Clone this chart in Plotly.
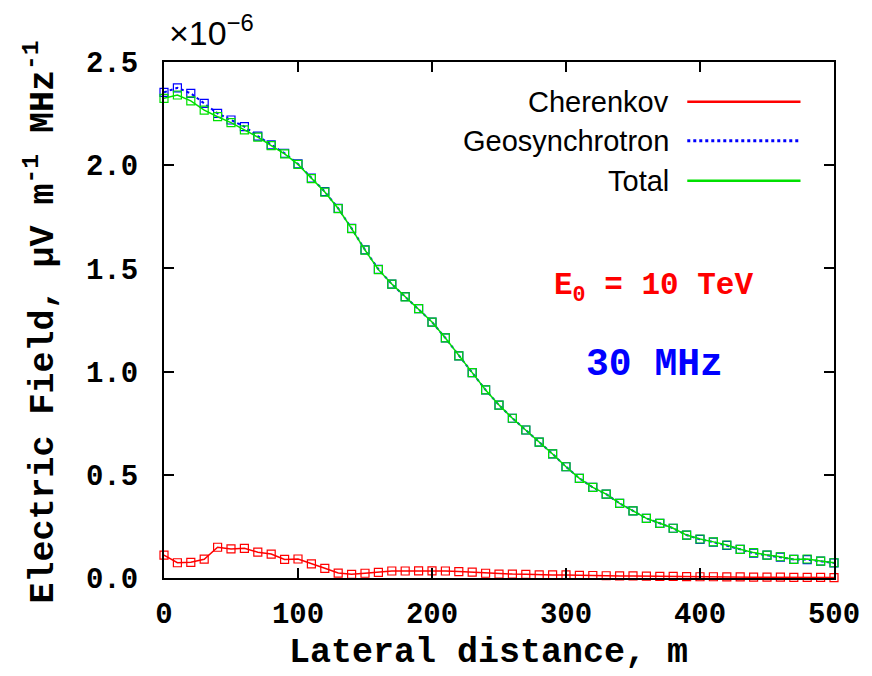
import plotly.graph_objects as go

# Lateral distance (m)
distance = list(range(0, 501, 10))

# Electric field values in units of 1e-6 (uV m^-1 MHz^-1)
cherenkov = [0.111, 0.074, 0.076, 0.091, 0.149, 0.141, 0.144, 0.125, 0.116, 0.090,
             0.092, 0.068, 0.047, 0.024, 0.018, 0.023, 0.027, 0.034, 0.034, 0.035,
             0.035, 0.034, 0.031, 0.028, 0.023, 0.019, 0.019, 0.018, 0.015, 0.015,
             0.015, 0.013, 0.012, 0.011, 0.010, 0.010, 0.009, 0.008, 0.008, 0.007,
             0.006, 0.006, 0.005, 0.005, 0.004, 0.004, 0.004, 0.003, 0.003, 0.003,
             0.002]

geosynchrotron = [2.353, 2.375, 2.348, 2.300, 2.251, 2.219, 2.187, 2.141, 2.098, 2.058,
                  2.006, 1.937, 1.872, 1.791, 1.694, 1.590, 1.496, 1.424, 1.363, 1.305,
                  1.240, 1.163, 1.076, 0.995, 0.911, 0.838, 0.774, 0.717, 0.658, 0.601,
                  0.539, 0.483, 0.439, 0.406, 0.362, 0.325, 0.289, 0.265, 0.241, 0.208,
                  0.187, 0.174, 0.158, 0.139, 0.120, 0.111, 0.101, 0.090, 0.089, 0.082,
                  0.073]

total = [2.324, 2.340, 2.312, 2.267, 2.235, 2.206, 2.171, 2.136, 2.095, 2.055,
         2.004, 1.935, 1.870, 1.790, 1.693, 1.589, 1.494, 1.424, 1.362, 1.305,
         1.240, 1.163, 1.076, 0.995, 0.911, 0.838, 0.774, 0.717, 0.658, 0.601,
         0.539, 0.483, 0.439, 0.406, 0.362, 0.325, 0.289, 0.265, 0.241, 0.208,
         0.189, 0.175, 0.160, 0.139, 0.123, 0.111, 0.103, 0.090, 0.092, 0.082,
         0.074]

series_names = ["Cherenkov", "Geosynchrotron", "Total"]
x_ticks = [0, 100, 200, 300, 400, 500]
y_ticks = [0.0, 0.5, 1.0, 1.5, 2.0, 2.5]
y_ticklabels = ["0.0", "0.5", "1.0", "1.5", "2.0", "2.5"]

RED = "#ff0000"
BLUE = "#0000ff"
GREEN = "#00e000"
MONO = "Liberation Mono"
SANS = "Liberation Sans"

fig = go.Figure()
styles = [
    (cherenkov, RED, "solid", 1.5),
    (geosynchrotron, BLUE, "dot", 2),
    (total, GREEN, "solid", 1.5),
]
for name, (vals, col, dash, w) in zip(series_names, styles):
    fig.add_trace(go.Scatter(
        x=distance, y=vals, name=name, mode="lines+markers",
        line=dict(color=col, width=w, dash=dash),
        marker=dict(symbol="square-open", size=8, color=col, line=dict(width=1.2, color=col)),
        showlegend=False, cliponaxis=False,
    ))

axis_common = dict(
    showline=True, linecolor="black", linewidth=2, mirror="ticks",
    ticks="inside", ticklen=10, tickwidth=1.5, tickcolor="black",
    showgrid=False, zeroline=False,
    tickfont=dict(family=MONO, size=29, color="black", weight="bold"),
)

fig.update_xaxes(range=[0, 500], tickvals=x_ticks, ticklabelstandoff=8, **axis_common)
fig.update_yaxes(range=[0, 2.5], tickvals=y_ticks, ticktext=y_ticklabels,
                 ticklabelstandoff=18, **axis_common)

annotations = []
# custom legend (text left, sample line right)
leg_y = [0.923, 0.8475, 0.770]
leg_style = [(RED, "solid"), (BLUE, "dot"), (GREEN, "solid")]
shapes = []
for name, yy, (col, dash) in zip(series_names, leg_y, leg_style):
    annotations.append(dict(
        text=name, x=0.756, y=yy, xref="paper", yref="paper",
        xanchor="right", yanchor="middle", showarrow=False,
        font=dict(family=SANS, size=29, color="black"),
    ))
    shapes.append(dict(
        type="line", xref="paper", yref="paper", x0=0.781, x1=0.950, y0=yy, y1=yy,
        line=dict(color=col, width=2.5 if dash == "solid" else 3, dash=dash),
    ))

annotations += [
    dict(text="E<sub>0</sub> = 10 TeV", x=0.730, y=0.562, xref="paper", yref="paper",
         showarrow=False, xanchor="center", yanchor="middle",
         font=dict(family=MONO, size=31, color=RED, weight="bold")),
    dict(text="30 MHz", x=0.732, y=0.413, xref="paper", yref="paper",
         showarrow=False, xanchor="center", yanchor="middle",
         font=dict(family=MONO, size=38, color=BLUE, weight="bold")),
    dict(text="×10<sup>−6</sup>", x=0.004, y=1.062, xref="paper", yref="paper",
         showarrow=False, xanchor="left", yanchor="middle",
         font=dict(family=SANS, size=34, color="black")),
    dict(text="Lateral distance, m", x=0.4845, y=-0.145, xref="paper", yref="paper",
         showarrow=False, xanchor="center", yanchor="middle",
         font=dict(family=MONO, size=35, color="black", weight="bold")),
    dict(text="Electric Field, μV m<sup>-1</sup> MHz<sup>-1</sup>", x=-0.183, y=0.496,
         xref="paper", yref="paper", textangle=-90,
         showarrow=False, xanchor="center", yanchor="middle",
         font=dict(family=MONO, size=35, color="black", weight="bold")),
]

fig.update_layout(
    width=872, height=676,
    margin=dict(l=164, r=31, t=62, b=98),
    plot_bgcolor="white", paper_bgcolor="white",
    annotations=annotations, shapes=shapes,
)

# remove the browser's default 8px body margin so the figure fills the window exactly
fig.write_html(
    "out.html",
    config={"displayModeBar": False},
    post_script="document.documentElement.style.margin='0';"
                "document.body.style.margin='0';document.body.style.padding='0';"
                "document.body.style.overflow='hidden';",
)
